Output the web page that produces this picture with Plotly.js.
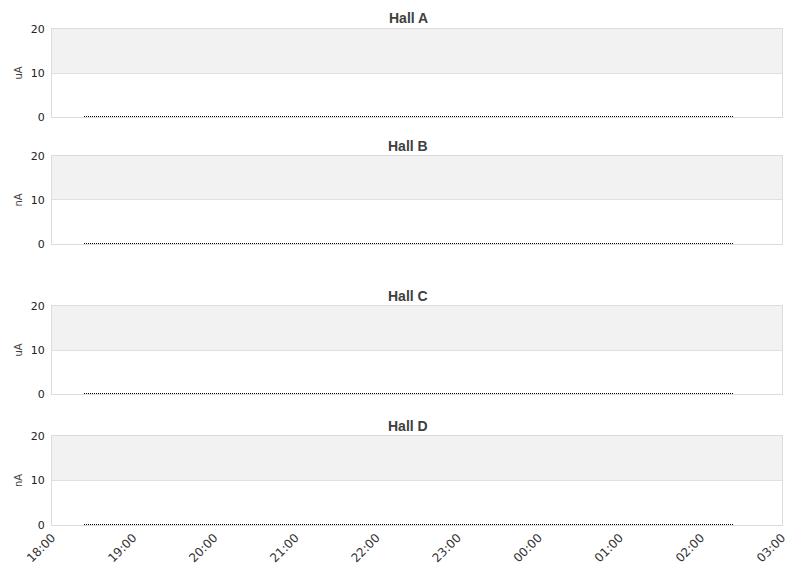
<!DOCTYPE html>
<html>
<head>
<meta charset="utf-8">
<script src="https://cdn.plot.ly/plotly-3.0.1.min.js"></script>
<style>html,body{margin:0;padding:0;background:#fff}#chart{width:811px;height:578px}
#chart g.scatterlayer path.js-line{shape-rendering:crispEdges}</style>
</head>
<body>
<div id="chart"></div>
<script>
const halls = ['Hall A', 'Hall B', 'Hall C', 'Hall D'];
const units = ['uA', 'nA', 'uA', 'nA'];
const times = ['2024-01-01 18:24', '2024-01-02 02:24'];
const hallA = [0, 0];
const hallB = [0, 0];
const hallC = [0, 0];
const hallD = [0, 0];
const xRange = ['2024-01-01 18:00', '2024-01-02 03:00'];
const yTicks = [0, 10, 20];

const series = [hallA, hallB, hallC, hallD];
const domains = [[0.7771, 0.9448], [0.5352, 0.7029], [0.2495, 0.4171], [0, 0.1695]];
const titleY = [0.9657, 0.7219, 0.4362, 0.1886];

const traces = [];
const layout = {
  width: 811, height: 578,
  margin: {l: 52, r: 29, t: 0, b: 53},
  paper_bgcolor: '#fff', plot_bgcolor: '#fff',
  showlegend: false,
  font: {family: 'DejaVu Sans', size: 11, color: '#333'},
  shapes: [], annotations: []
};

series.forEach((vals, i) => {
  const n = i === 0 ? '' : String(i + 1);
  traces.push({
    x: times, y: vals, type: 'scatter', mode: 'lines',
    xaxis: 'x' + n, yaxis: 'y' + n,
    line: {color: '#000', width: 3, dash: '1px,1px'},
    hoverinfo: 'skip'
  });
  layout['xaxis' + n] = {
    type: 'date', range: xRange, anchor: 'y' + n,
    dtick: 3600000, tick0: '2024-01-01 18:00', tickformat: '%H:%M',
    tickangle: -45, showticklabels: i === 3,
    tickfont: {family: 'DejaVu Sans', size: 12, color: '#333'},
    showgrid: false, zeroline: false,
    showline: true, linecolor: '#dcdcdc', linewidth: 1, mirror: true,
    ticks: ''
  };
  layout['yaxis' + n] = {
    domain: domains[i], anchor: 'x' + n, range: [0, 20],
    tickvals: yTicks, ticktext: yTicks.map(String),
    tickfont: {family: 'DejaVu Sans', size: 11, color: '#222'},
    ticklabelstandoff: 4,
    showgrid: true, gridcolor: '#e0e0e0', zeroline: false,
    showline: true, linecolor: '#dcdcdc', linewidth: 1, mirror: true,
    ticks: '', ticklen: 0,
    title: {text: units[i], font: {family: 'DejaVu Sans', size: 10, color: '#444'}, standoff: 6}
  };
  layout.shapes.push({
    type: 'rect', xref: 'x' + n + ' domain', yref: 'y' + n,
    x0: 0, x1: 1, y0: 10, y1: 20,
    fillcolor: '#f2f2f2', line: {width: 0}, layer: 'below'
  });
  layout.annotations.push({
    text: '<b>' + halls[i] + '</b>', xref: 'paper', yref: 'paper',
    x: 0.488, y: titleY[i], xanchor: 'center', yanchor: 'middle',
    showarrow: false,
    font: {family: 'Liberation Sans, Arial, sans-serif', size: 14, color: '#404040'}
  });
});

Plotly.newPlot('chart', traces, layout, {displayModeBar: false, staticPlot: true}).then(() => {
  // let the zero-value lines straddle the bottom border, as in the reference
  document.querySelectorAll('#chart g.plot').forEach(g => g.removeAttribute('clip-path'));
  document.querySelectorAll('#chart g.scatterlayer g.trace, #chart g.scatterlayer').forEach(g => g.removeAttribute('clip-path'));
});
</script>
</body>
</html>
